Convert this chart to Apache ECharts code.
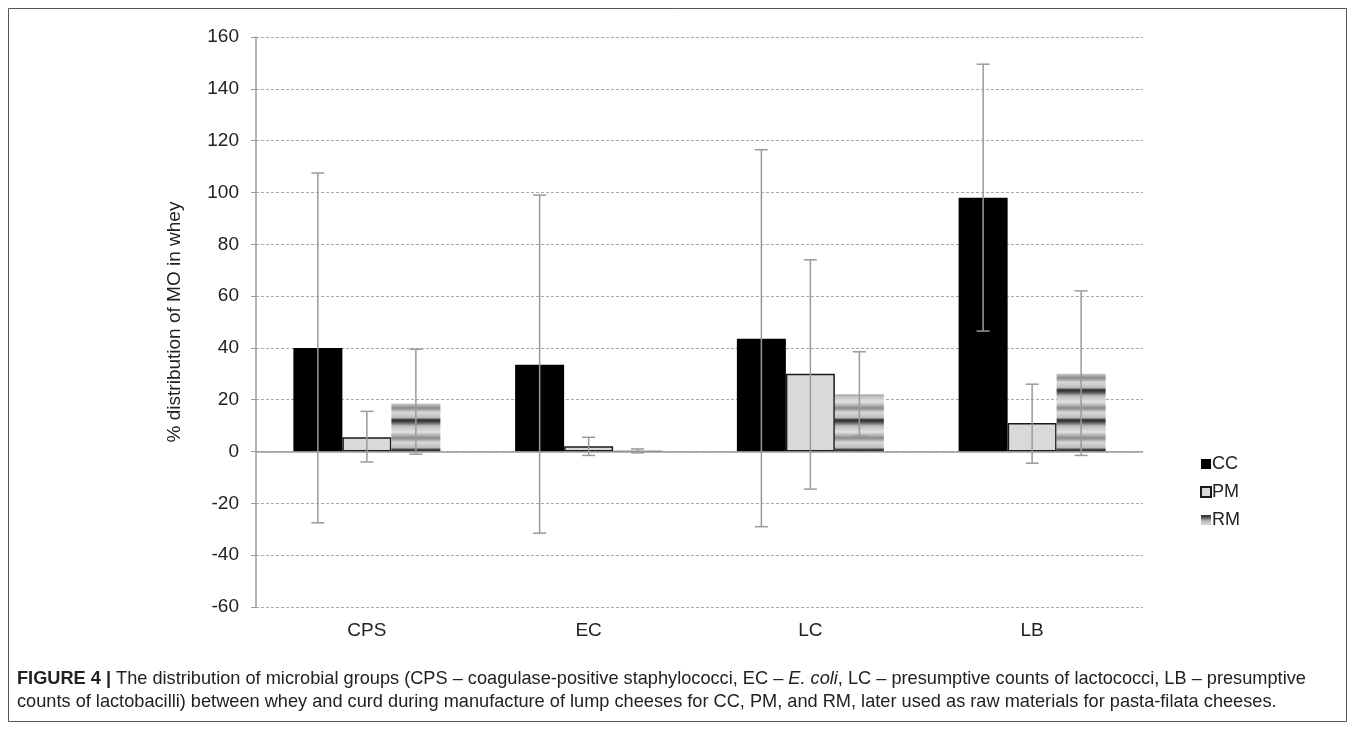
<!DOCTYPE html>
<html>
<head>
<meta charset="utf-8">
<script src="https://cdn.jsdelivr.net/npm/echarts@6/dist/echarts.min.js"></script>
<style>
  html, body { margin: 0; padding: 0; background: #fff; }
  #chart { width: 1355px; height: 732px; }
</style>
</head>
<body>
<div id="chart"></div>
<script>
const categories = ['CPS', 'EC', 'LC', 'LB']
const ccValues = [40, 33.5, 43.5, 98]
const pmValues = [5.5, 2, 30, 11]
const rmValues = [18.5, 0.3, 22, 30]
const ccErrLow = [-27.5, -31.5, -29, 46.5]
const ccErrHigh = [107.5, 99, 116.5, 149.5]
const pmErrLow = [-4, -1.5, -14.5, -4.5]
const pmErrHigh = [15.5, 5.5, 74, 26]
const rmErrLow = [-1, -0.5, 6, -1.5]
const rmErrHigh = [39.5, 1, 38.5, 62]
const yTicks = { min: -60, max: 160, interval: 20 }

const FONT = 'Liberation Sans, Arial, sans-serif'
const BAR_W = 49

// striped grey fill, roughly like the excel gradient bars
function makeStripes() {
  const c = document.createElement('canvas')
  c.width = 4
  c.height = 30
  const ctx = c.getContext('2d')
  const g = ctx.createLinearGradient(0, 0, 0, 30)
  g.addColorStop(0, '#2a2a2a')
  g.addColorStop(0.08, '#555')
  g.addColorStop(0.2, '#bdbdbd')
  g.addColorStop(0.4, '#e2e2e2')
  g.addColorStop(0.6, '#8a8a8a')
  g.addColorStop(0.75, '#d8d8d8')
  g.addColorStop(0.92, '#bcbcbc')
  g.addColorStop(1, '#2a2a2a')
  ctx.fillStyle = g
  ctx.fillRect(0, 0, 4, 30)
  return c
}
const stripes = { image: makeStripes(), repeat: 'repeat' }

function errSeries(low, high, offset) {
  return {
    type: 'custom',
    z: 5,
    silent: true,
    data: low.map((l, i) => [i, l, high[i]]),
    encode: { x: 0, y: [1, 2] },
    renderItem: (params, api) => {
      const i = api.value(0)
      const top = api.coord([i, api.value(2)])
      const bot = api.coord([i, api.value(1)])
      const x = top[0] + offset
      const cap = 6.5
      const style = { stroke: '#9a9a9a', lineWidth: 1.5 }
      return {
        type: 'group',
        children: [
          { type: 'line', shape: { x1: x, y1: top[1], x2: x, y2: bot[1] }, style },
          { type: 'line', shape: { x1: x - cap, y1: top[1], x2: x + cap, y2: top[1] }, style },
          { type: 'line', shape: { x1: x - cap, y1: bot[1], x2: x + cap, y2: bot[1] }, style },
        ],
      }
    },
  }
}

const chart = echarts.init(document.getElementById('chart'))

const option = {
  backgroundColor: '#fff',
  animation: false,
  textStyle: { fontFamily: FONT },
  grid: { left: 256, right: 212, top: 37, bottom: 125 },
  legend: {
    orient: 'vertical',
    left: 1195,
    top: 450,
    icon: 'rect',
    itemWidth: 10,
    itemHeight: 10,
    itemGap: 10,
    data: ['CC', 'PM', 'RM'],
    textStyle: { fontSize: 18, color: '#222', padding: [0, 0, 0, -4] },
  },
  xAxis: {
    type: 'category',
    data: categories,
    axisLine: { show: false },
    axisTick: { show: false },
    axisLabel: { fontSize: 19, color: '#222', margin: 14 },
  },
  yAxis: {
    type: 'value',
    min: yTicks.min,
    max: yTicks.max,
    interval: yTicks.interval,
    name: '% distribution of MO in whey',
    nameLocation: 'middle',
    nameGap: 72,
    nameTextStyle: { fontSize: 19, color: '#222' },
    axisLine: { show: true, lineStyle: { color: '#9a9a9a', width: 1.5 } },
    axisTick: { show: true, length: 5, lineStyle: { color: '#9a9a9a' } },
    axisLabel: { fontSize: 19, color: '#222', margin: 17 },
    splitLine: { lineStyle: { color: '#a8a8a8', type: [3, 2], width: 1 } },
  },
  series: [
    {
      name: 'CC',
      type: 'bar',
      data: ccValues,
      barWidth: BAR_W,
      barGap: '0%',
      itemStyle: { color: '#000' },
      markLine: {
        silent: true,
        symbol: 'none',
        label: { show: false },
        lineStyle: { color: '#9a9a9a', type: 'solid', width: 1.5 },
        data: [{ yAxis: 0 }],
      },
    },
    {
      name: 'PM',
      type: 'bar',
      data: pmValues,
      barWidth: BAR_W,
      barGap: '0%',
      itemStyle: { color: '#d9d9d9', borderColor: '#1a1a1a', borderWidth: 1.5 },
    },
    {
      name: 'RM',
      type: 'bar',
      data: rmValues,
      barWidth: BAR_W,
      barGap: '0%',
      itemStyle: { color: stripes },
    },
    errSeries(ccErrLow, ccErrHigh, -BAR_W),
    errSeries(pmErrLow, pmErrHigh, 0),
    errSeries(rmErrLow, rmErrHigh, BAR_W),
  ],
  graphic: [
    {
      type: 'rect',
      shape: { x: 8.5, y: 8.5, width: 1338, height: 713 },
      style: { fill: 'none', stroke: '#555', lineWidth: 1 },
      silent: true,
    },
    {
      type: 'text',
      left: 17,
      top: 670,
      style: {
        text: '{b|FIGURE 4 |} The distribution of microbial groups (CPS – coagulase-positive staphylococci, EC – {i|E. coli}, LC – presumptive counts of lactococci, LB – presumptive',
        font: '18.2px ' + FONT,
        fill: '#222',
        rich: {
          b: { fontWeight: 'bold', fontSize: 18.2, fontFamily: FONT, fill: '#222' },
          i: { fontStyle: 'italic', fontSize: 18.2, fontFamily: FONT, fill: '#222' },
        },
      },
    },
    {
      type: 'text',
      left: 17,
      top: 693,
      style: {
        text: 'counts of lactobacilli) between whey and curd during manufacture of lump cheeses for CC, PM, and RM, later used as raw materials for pasta-filata cheeses.',
        font: '18.2px ' + FONT,
        fill: '#222',
      },
    },
  ],
}

chart.setOption(option)
</script>
</body>
</html>
